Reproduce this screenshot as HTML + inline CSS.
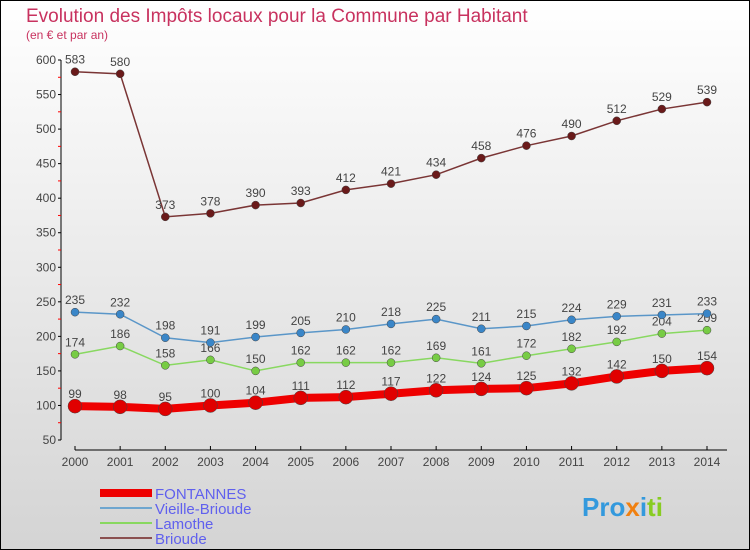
<!DOCTYPE html>
<html><head><meta charset="utf-8"><style>
body{margin:0}
#c{width:750px;height:550px;position:relative;overflow:hidden}
text{font-family:"Liberation Sans",sans-serif}
</style></head><body>
<div id="c">
<svg id="s" width="750" height="550" xmlns="http://www.w3.org/2000/svg">
<defs><linearGradient id="bg" x1="0" y1="0" x2="0" y2="1"><stop offset="0" stop-color="#ffffff"/><stop offset="1" stop-color="#d4d4d4"/></linearGradient></defs>
<rect x="0.5" y="0.5" width="749" height="549" fill="url(#bg)" stroke="#000"/>
<text x="26" y="22" font-size="19" fill="#c8325f">Evolution des Impôts locaux pour la Commune par Habitant</text>
<text x="26" y="39" font-size="12" fill="#c8325f">(en € et par an)</text>
<g id="axes"></g><g id="series"></g>
<g>
<rect x="100" y="489" width="52" height="8" fill="#e00"/>
<line x1="100" y1="508" x2="152" y2="508" stroke="#6fa6cf" stroke-width="2"/>
<line x1="100" y1="523" x2="152" y2="523" stroke="#88d860" stroke-width="2"/>
<line x1="100" y1="538" x2="152" y2="538" stroke="#8a5050" stroke-width="2"/>
<text x="155" y="499" font-size="15" fill="#6060ee">FONTANNES</text>
<text x="155" y="514" font-size="15" fill="#6060ee">Vieille-Brioude</text>
<text x="155" y="529" font-size="15" fill="#6060ee">Lamothe</text>
<text x="155" y="544" font-size="15" fill="#6060ee">Brioude</text>
</g>
<text x="582" y="516" font-size="26" font-weight="bold" fill="#3399dd">Pro<tspan fill="#f08010">x</tspan><tspan fill="#3399dd">i</tspan><tspan fill="#88cc22">ti</tspan></text>
</svg></div>
<script>
const years=[2000,2001,2002,2003,2004,2005,2006,2007,2008,2009,2010,2011,2012,2013,2014];
const fontannes=[99,98,95,100,104,111,112,117,122,124,125,132,142,150,154];
const vieille=[235,232,198,191,199,205,210,218,225,211,215,224,229,231,233];
const lamothe=[174,186,158,166,150,162,162,162,169,161,172,182,192,204,209];
const brioude=[583,580,373,378,390,393,412,421,434,458,476,490,512,529,539];
const yTicks=[50,100,150,200,250,300,350,400,450,500,550,600];
const NS="http://www.w3.org/2000/svg";
const X=i=>75+i*(707-75)/(years.length-1);
const Y=v=>440-(v-50)*380/550;
function mk(t,a,p){const e=document.createElementNS(NS,t);for(const k in a)e.setAttribute(k,a[k]);p.appendChild(e);return e;}
const ax=document.getElementById('axes');
const yl=mk('line',{x1:61,y1:Y(600),x2:61,y2:Y(50),stroke:'#000'},ax);


const xl=mk('line',{x1:75,y1:450,x2:707+20,y2:450,stroke:'#000'},ax);


yTicks.forEach((v,i)=>{
 mk('line',{x1:58,x2:61,y1:Y(v),y2:Y(v),stroke:'#000'},ax);
 if(i<yTicks.length-1)mk('line',{x1:58,x2:61,y1:Y(v+25),y2:Y(v+25),stroke:'#f00'},ax);
 const t=mk('text',{x:56,y:Y(v)+4,'font-size':12,'text-anchor':'end',fill:'#444'},ax);t.textContent=v;
 
 
});
years.forEach((y,i)=>{
 mk('line',{x1:X(i),x2:X(i),y1:446,y2:450,stroke:'#000'},ax);
 const t=mk('text',{x:X(i),y:466,'font-size':12,'text-anchor':'middle',fill:'#444'},ax);t.textContent=y;
 
 
});
const sg=document.getElementById('series');
function series(vals,name,col,dot,w,r){
 const g=mk('g',{},sg);
 
 
 const pl=mk('polyline',{points:vals.map((v,i)=>X(i)+','+Y(v)).join(' '),fill:'none',stroke:col,'stroke-width':w},g);
 
 
 vals.forEach((v,i)=>{
  const c=mk('circle',{cx:X(i),cy:Y(v),r:r,fill:dot,stroke:'#444','stroke-width':0.5},g);
  
  
  const t=mk('text',{x:X(i),y:Y(v)-8,'font-size':12,'text-anchor':'middle',fill:'#444'},g);t.textContent=v;
  
  
 });
}
series(brioude,'brioude','#7a3535','#6a1a1a',1.5,4);
series(lamothe,'lamothe','#88d860','#77cc44',1.5,4);
series(vieille,'vieille-brioude','#5a96c8','#3a86c8',1.5,4);
series(fontannes,'fontannes','#ee0000','#e00000',8,7);
</script>
</body></html>
